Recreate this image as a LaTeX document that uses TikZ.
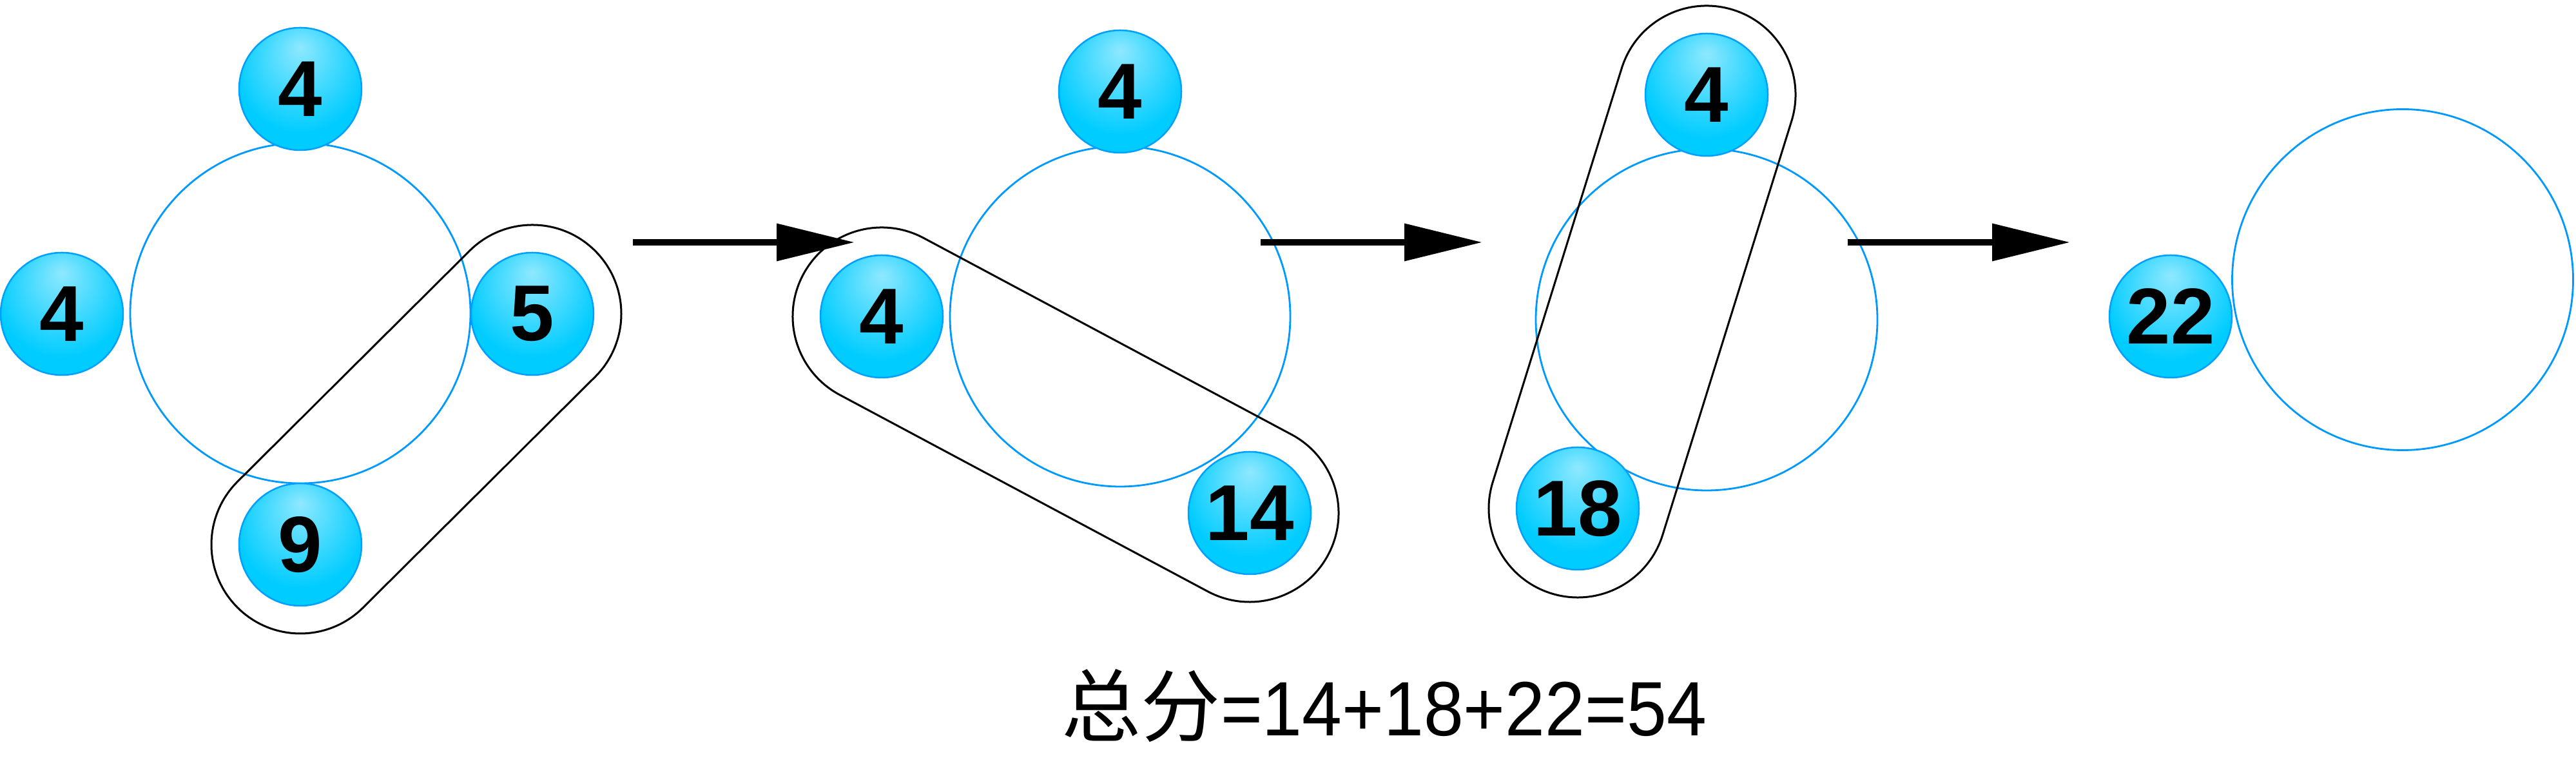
\documentclass[tikz,border=0pt]{standalone}
\usepackage{fontspec}
\usepackage{graphicx}
\setmainfont{Liberation Sans}
\newfontfamily\cjk{Noto Sans CJK SC}
\usetikzlibrary{arrows.meta,calc}
\definecolor{ringblue}{RGB}{0,153,255}
\definecolor{ballborder}{RGB}{0,160,255}
\pgfdeclareradialshading{ballshade}{\pgfpoint{0cm}{0.6cm}}{rgb(0cm)=(0.56,0.91,1); rgb(0.95cm)=(0,0.8,1); rgb(2cm)=(0,0.8,1)}
\tikzset{
  ball/.style={circle, minimum size=1.90cm, inner sep=0pt, shade, shading=ballshade,
    draw=ballborder, line width=0.025cm, font=\fontsize{35}{40}\selectfont\bfseries},
  ring/.style={draw=ringblue, line width=0.028cm},
  capsule/.style={draw=black, line width=0.03cm},
  flow/.style={line width=0.1cm, -{Triangle[length=1.21cm,width=0.56cm]}}
}
\begin{document}
\begin{tikzpicture}
\useasboundingbox (0,0) rectangle (39.97,11.87);
% ---------- panel 1
\draw[ring] (4.66,7.01) circle[radius=2.64];
\node[ball] (p1t) at (4.66,10.49) {4};
\node[ball] (p1l) at (0.96,7.00) {4};
\node[ball] (p1r) at (8.26,7.00) {5};
\node[ball] (p1b) at (4.66,3.42) {9};
\draw[capsule] ($(p1b.center)+(-45:1.38)$) -- ($(p1r.center)+(-45:1.38)$)
  arc[start angle=-45, end angle=135, radius=1.38]
  -- ($(p1b.center)+(135:1.38)$)
  arc[start angle=135, end angle=315, radius=1.38] -- cycle;
% ---------- panel 2
\draw[ring] (17.38,6.96) circle[radius=2.64];
\node[ball] (p2t) at (17.38,10.45) {4};
\node[ball] (p2l) at (13.68,6.96) {4};
\node[ball] (p2b) at (19.39,3.91) {14};
\draw[capsule] ($(p2l.center)+(-118.1:1.38)$) -- ($(p2b.center)+(-118.1:1.38)$)
  arc[start angle=-118.1, end angle=61.9, radius=1.38]
  -- ($(p2l.center)+(61.9:1.38)$)
  arc[start angle=61.9, end angle=241.9, radius=1.38] -- cycle;
% ---------- panel 3
\draw[ring] (26.48,6.91) circle[radius=2.65];
\node[ball] (p3t) at (26.48,10.40) {4};
\node[ball] (p3b) at (24.48,3.98) {18};
\draw[capsule] ($(p3b.center)+(-17.3:1.38)$) -- ($(p3t.center)+(-17.3:1.38)$)
  arc[start angle=-17.3, end angle=162.7, radius=1.38]
  -- ($(p3b.center)+(162.7:1.38)$)
  arc[start angle=162.7, end angle=342.7, radius=1.38] -- cycle;
% ---------- panel 4
\draw[ring] (37.28,7.53) circle[radius=2.645];
\node[ball] (p4l) at (33.68,6.96) {22};
% ---------- arrows
\coordinate (a1s) at (9.82,8.11);  \coordinate (a1e) at (13.26,8.11);
\coordinate (a2s) at (19.56,8.11); \coordinate (a2e) at (23.00,8.11);
\coordinate (a3s) at (28.67,8.11); \coordinate (a3e) at (32.12,8.11);
\draw[flow] (a1s) -- (a1e);
\draw[flow] (a2s) -- (a2e);
\draw[flow] (a3s) -- (a3e);
% ---------- total
\node[anchor=base, inner sep=0pt] (total) at (21.48,0.45)
  {\fontsize{35}{40}\selectfont{\cjk 总分}\fontsize{34}{40}\selectfont\scalebox{0.93}[1]{=14+18+22=54}};
\end{tikzpicture}
\end{document}
